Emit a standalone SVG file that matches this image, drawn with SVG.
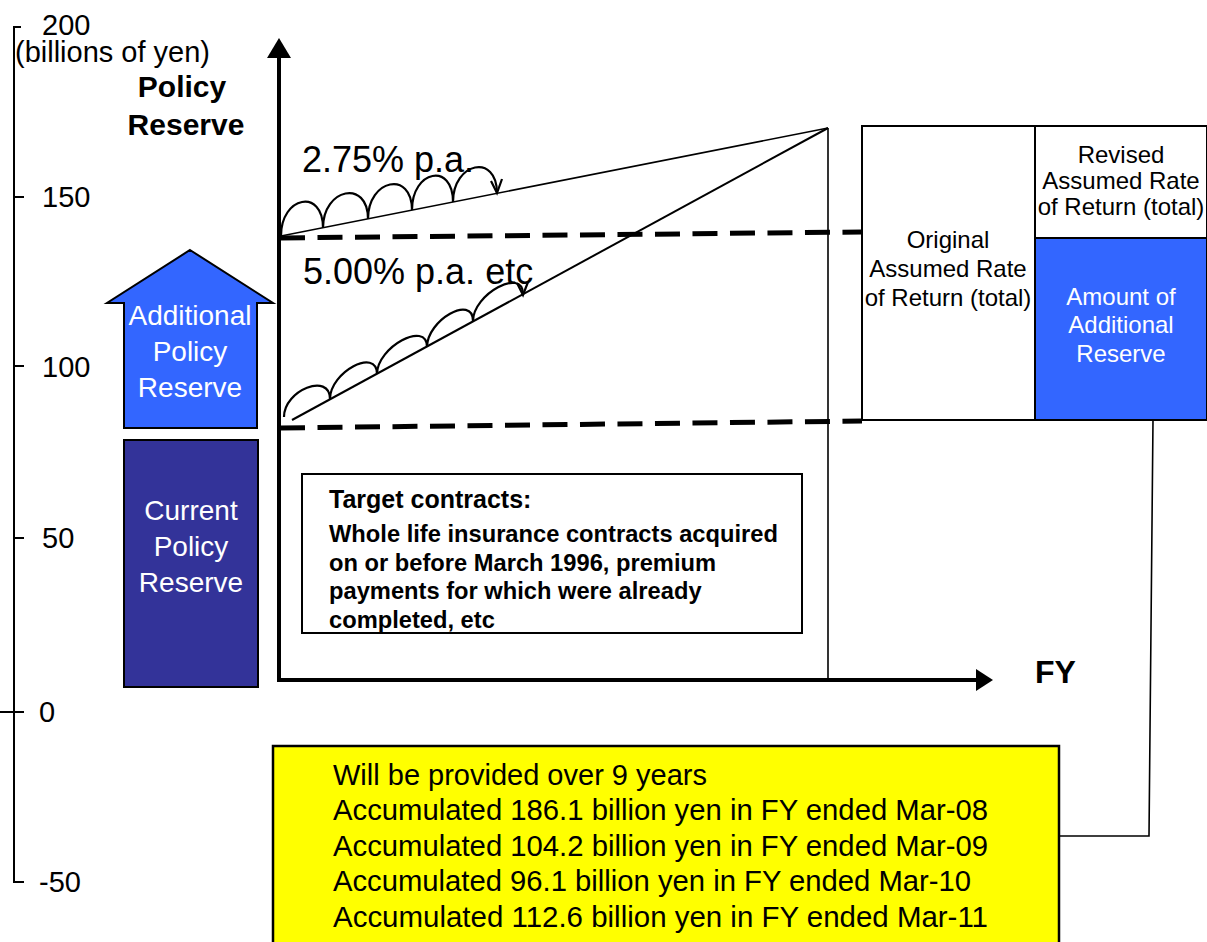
<svg xmlns="http://www.w3.org/2000/svg" width="1207" height="942" viewBox="0 0 1207 942">
<style>
  text { font-family: "Liberation Sans", Arial, sans-serif; fill: #000; }
  .tick { font-size: 29px; }
  .wt { fill: #fff; font-size: 28px; text-anchor: middle; }
  .box { stroke: #000; stroke-width: 2; }
  .thin { fill: none; stroke: #000; stroke-width: 1.6; }
  .dash { fill: none; stroke: #000; stroke-width: 5; stroke-dasharray: 25 12.5; }
  .hump { fill: none; stroke: #000; stroke-width: 2.2; stroke-linejoin: miter; }
  .mid { text-anchor: middle; font-size: 24px; }
  .tc { font-weight: bold; font-size: 23.7px; }
  .yl { font-size: 29px; }
</style>

<g id="scale-axis">
  <path d="M21,27 H14 V882 H24" fill="none" stroke="#000" stroke-width="2"/>
  <path d="M14,197 H24 M14,366 H24 M14,538 H24 M0,712 H24" fill="none" stroke="#000" stroke-width="2"/>
  <text class="tick" x="42" y="35">200</text>
  <text class="tick" x="15" y="62">(billions of yen)</text>
  <text class="tick" x="42" y="207">150</text>
  <text class="tick" x="42" y="377">100</text>
  <text class="tick" x="42" y="548">50</text>
  <text class="tick" x="39" y="722">0</text>
  <text class="tick" x="39" y="892">-50</text>
</g>

<g id="axis-title">
  <text x="182" y="97" font-size="30" font-weight="bold" text-anchor="middle">Policy</text>
  <text x="186" y="135" font-size="30" font-weight="bold" text-anchor="middle">Reserve</text>
</g>

<g id="additional-policy-reserve">
  <polygon points="190,250 273,303 257,303 257,428 124,428 124,303 107,303" fill="#3366FF" class="box"/>
  <text class="wt" x="190" y="325">Additional</text>
  <text class="wt" x="190" y="361">Policy</text>
  <text class="wt" x="190" y="397">Reserve</text>
</g>

<g id="current-policy-reserve">
  <rect x="124" y="440" width="134" height="247" fill="#333399" class="box"/>
  <text class="wt" x="191" y="520">Current</text>
  <text class="wt" x="191" y="556">Policy</text>
  <text class="wt" x="191" y="592">Reserve</text>
</g>

<g id="chart-axes">
  <path d="M279,58 V680 H978" fill="none" stroke="#000" stroke-width="4"/>
  <polygon points="279,38 291,58 267,58" fill="#000"/>
  <polygon points="993,680 976,669 976,691" fill="#000"/>
  <text x="1035" y="683" font-size="32" font-weight="bold">FY</text>
</g>

<g id="connectors">
  <line class="thin" x1="828" y1="128" x2="828" y2="680"/>
  <line class="thin" x1="281" y1="236" x2="828" y2="128"/>
  <line fill="none" stroke="#000" stroke-width="2" x1="292" y1="420" x2="828" y2="128"/>
  <line class="dash" x1="280" y1="238" x2="862" y2="232"/>
  <line class="dash" x1="280" y1="428" x2="862" y2="421"/>
  <path class="thin" d="M1153,420 L1149,836 H1059"/>
</g>

<g id="humps-275">
  <path class="hump" d="M281,236 C281,196 323,188 323,228 C323,188 368,179 368,219 C368,179 412,170 412,210 C412,170 453,162 453,202 C453,162 497,153 497,193"/>
  <path class="hump" d="M491,181 L497,193 L502,179"/>
  <text x="302" y="172" font-size="36">2.75% p.a.</text>
</g>

<g id="humps-500">
  <path class="hump" d="M284,417 C284,390 330,372 330,399 C330,372 377,347 377,374 C377,347 427,320 427,347 C427,320 473,294 473,321 C473,294 523,267 523,294"/>
  <path class="hump" d="M517,283 L523,295 L528,282"/>
  <text x="303" y="284" font-size="36">5.00% p.a. etc</text>
</g>

<g id="original-rate">
  <rect x="862" y="126" width="173" height="294" fill="#fff" class="box"/>
  <text class="mid" x="948" y="248">Original</text>
  <text class="mid" x="948" y="277">Assumed Rate</text>
  <text class="mid" x="948" y="306">of Return (total)</text>
</g>

<g id="revised-rate">
  <rect x="1035" y="126" width="172" height="112" fill="#fff" class="box"/>
  <text class="mid" x="1121" y="163">Revised</text>
  <text class="mid" x="1121" y="189">Assumed Rate</text>
  <text class="mid" x="1121" y="215">of Return (total)</text>
</g>

<g id="additional-reserve">
  <rect x="1035" y="238" width="172" height="182" fill="#3366FF" class="box"/>
  <text class="mid" x="1121" y="305" style="fill:#fff">Amount of</text>
  <text class="mid" x="1121" y="333" style="fill:#fff">Additional</text>
  <text class="mid" x="1121" y="362" style="fill:#fff">Reserve</text>
</g>

<g id="target-contracts">
  <rect x="302" y="474" width="500" height="159" fill="#fff" class="box"/>
  <text x="329" y="508" font-size="25" font-weight="bold">Target contracts:</text>
  <text class="tc" x="329" y="542">Whole life insurance contracts acquired</text>
  <text class="tc" x="329" y="571">on or before March 1996, premium</text>
  <text class="tc" x="329" y="599">payments for which were already</text>
  <text class="tc" x="329" y="628">completed, etc</text>
</g>

<g id="provision-schedule">
  <rect x="273" y="746" width="786" height="206" fill="#FFFF00" stroke="#000" stroke-width="2.5"/>
  <text class="yl" x="333" y="785">Will be provided over 9 years</text>
  <text class="yl" x="333" y="820" textLength="655" lengthAdjust="spacingAndGlyphs">Accumulated 186.1 billion yen in FY ended Mar-08</text>
  <text class="yl" x="333" y="856" textLength="655" lengthAdjust="spacingAndGlyphs">Accumulated 104.2 billion yen in FY ended Mar-09</text>
  <text class="yl" x="333" y="891" textLength="638" lengthAdjust="spacingAndGlyphs">Accumulated 96.1 billion yen in FY ended Mar-10</text>
  <text class="yl" x="333" y="927" textLength="655" lengthAdjust="spacingAndGlyphs">Accumulated 112.6 billion yen in FY ended Mar-11</text>
</g>
</svg>
